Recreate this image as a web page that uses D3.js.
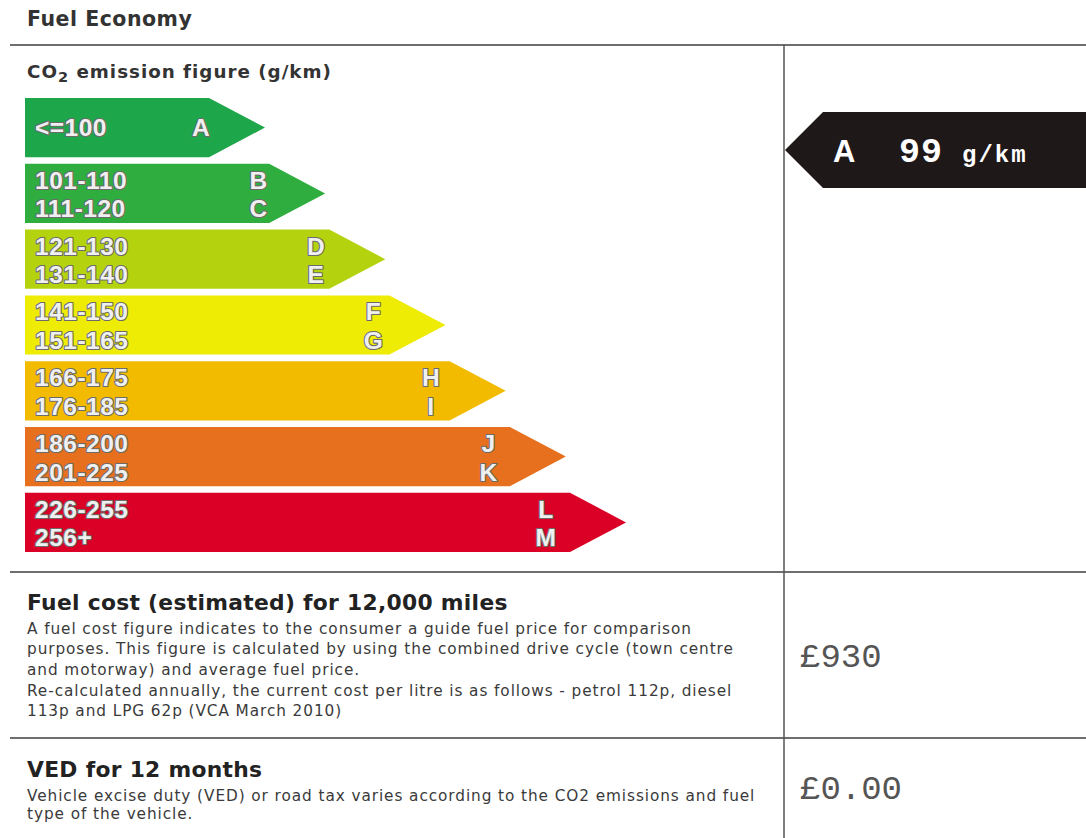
<!DOCTYPE html>
<html>
<head>
<meta charset="utf-8">
<script src="https://cdn.jsdelivr.net/npm/d3@7"></script>
<style>
  html, body { margin: 0; padding: 0; background: #fff; }
  svg { display: block; }
</style>
</head>
<body>
<svg id="chart" width="1086" height="838"></svg>
<script>
// ---- data ----
const bandRanges = [["<=100"], ["101-110", "111-120"], ["121-130", "131-140"], ["141-150", "151-165"],
                    ["166-175", "176-185"], ["186-200", "201-225"], ["226-255", "256+"]];
const bandLetters = [["A"], ["B", "C"], ["D", "E"], ["F", "G"], ["H", "I"], ["J", "K"], ["L", "M"]];
const bandColors = ["#1ea64a", "#2fae3f", "#b4d30e", "#eeeb05", "#f2bb00", "#e6701d", "#db0026"];
const bandRank = [0, 1, 2, 3, 4, 5, 6];

const ratingLetter = "A";
const ratingValue = 99;
const ratingUnit = "g/km";

const title = "Fuel Economy";
const co2Title = "emission figure (g/km)";
const fuelCostTitle = "Fuel cost (estimated) for 12,000 miles";
const fuelCostText = [
  "A fuel cost figure indicates to the consumer a guide fuel price for comparison",
  "purposes. This figure is calculated by using the combined drive cycle (town centre",
  "and motorway) and average fuel price.",
  "Re-calculated annually, the current cost per litre is as follows - petrol 112p, diesel",
  "113p and LPG 62p (VCA March 2010)"
];
const fuelCostValue = 930;
const vedTitle = "VED for 12 months";
const vedText = [
  "Vehicle excise duty (VED) or road tax varies according to the CO2 emissions and fuel",
  "type of the vehicle."
];
const vedValue = 0.00;

// ---- drawing ----
const svg = d3.select("#chart");
svg.append("rect").attr("width", 1086).attr("height", 838).attr("fill", "#fff");

const sans = "'DejaVu Sans', Verdana, sans-serif";
const mono = "'Liberation Mono', 'Courier New', monospace";

// title
svg.append("text").attr("x", 27).attr("y", 26).text(title)
  .attr("font-family", sans).attr("font-weight", "bold").attr("font-size", 20.5)
  .attr("letter-spacing", 0.5).attr("fill", "#333");

// grid lines
const lineColor = "#6e6e6e";
[45, 572, 738].forEach(y => {
  svg.append("line").attr("x1", 10).attr("x2", 1086).attr("y1", y).attr("y2", y)
    .attr("stroke", lineColor).attr("stroke-width", 2);
});
svg.append("line").attr("x1", 784).attr("x2", 784).attr("y1", 45).attr("y2", 838)
  .attr("stroke", "#555").attr("stroke-width", 1.5);

// CO2 title
const co2 = svg.append("text").attr("x", 27).attr("y", 78)
  .attr("font-family", sans).attr("font-weight", "bold").attr("font-size", 18.3)
  .attr("letter-spacing", 1).attr("fill", "#333");
co2.append("tspan").text("CO");
co2.append("tspan").text("2").attr("font-size", 14.5).attr("dy", 4);
co2.append("tspan").text(" " + co2Title).attr("dy", -4);

// scales
const y = d3.scaleBand().domain(bandRank).range([98, 552]).paddingInner(0.1);
const xTip = d3.scaleLinear().domain([0, 6]).range([265, 626]);
const xLetter = d3.scaleLinear().domain([0, 6]).range([201, 546]);
const x0 = 25;
const tipLen = 56;

const bands = svg.append("g").selectAll("g").data(bandRank).join("g");

bands.append("path")
  .attr("fill", (d, i) => bandColors[i])
  .attr("d", d => {
    const t = y(d), h = y.bandwidth(), tip = xTip(d);
    return `M${x0},${t}H${tip - tipLen}L${tip},${t + h / 2}L${tip - tipLen},${t + h}H${x0}Z`;
  });

const labelStyle = sel => sel
  .attr("font-family", "'Liberation Sans', Arial, sans-serif")
  .attr("font-weight", "bold")
  .attr("font-size", 24.5)
  .attr("letter-spacing", 0.5)
  .attr("fill", "#f0f0f0")
  .attr("stroke", "#6b6b6b")
  .attr("stroke-width", 2.2)
  .attr("paint-order", "stroke")
  .attr("stroke-linejoin", "round");

bands.each(function (d, i) {
  const g = d3.select(this);
  const t = y(d), h = y.bandwidth();
  const lines = bandRanges[i];
  const ys = lines.length === 1 ? [t + h / 2] : [t + h * 0.272, t + h * 0.755];
  lines.forEach((s, k) => {
    g.append("text").attr("x", 35).attr("y", ys[k]).attr("dy", "0.36em").text(s).call(labelStyle);
    g.append("text").attr("x", xLetter(d)).attr("y", ys[k]).attr("dy", "0.36em")
      .attr("text-anchor", "middle").text(bandLetters[i][k]).call(labelStyle);
  });
});

// rating indicator
const ind = svg.append("g");
const iy0 = 112, iy1 = 188, ix0 = 785, ixr = 823;
ind.append("path").attr("fill", "#1e1818")
  .attr("d", `M${ix0},${(iy0 + iy1) / 2}L${ixr},${iy0}H1086V${iy1}H${ixr}Z`);
ind.append("text").attr("x", 833).attr("y", 162).text(ratingLetter)
  .attr("font-family", "'Liberation Sans', Arial, sans-serif").attr("font-weight", "bold")
  .attr("font-size", 31).attr("fill", "#fff");
ind.append("text").attr("x", 899).attr("y", 162).text(ratingValue)
  .attr("font-family", mono).attr("font-weight", "bold").attr("font-size", 35)
  .attr("letter-spacing", 1).attr("fill", "#fff");
ind.append("text").attr("x", 962).attr("y", 162).text(ratingUnit)
  .attr("font-family", mono).attr("font-weight", "bold").attr("font-size", 24)
  .attr("letter-spacing", 2).attr("fill", "#fff");

// fuel cost section
svg.append("text").attr("x", 27).attr("y", 610).text(fuelCostTitle)
  .attr("font-family", sans).attr("font-weight", "bold").attr("font-size", 21.8)
  .attr("letter-spacing", 0.3).attr("fill", "#222");
fuelCostText.forEach((s, i) => {
  svg.append("text").attr("x", 27).attr("y", 634 + i * 20.3 + (i >= 3 ? 1 : 0)).text(s)
    .attr("font-family", sans).attr("font-size", 15.3).attr("letter-spacing", 0.92).attr("fill", "#3a3a3a");
});
svg.append("text").attr("x", 800).attr("y", 667).text("£" + fuelCostValue)
  .attr("font-family", mono).attr("font-size", 34).attr("fill", "#555");

// VED section
svg.append("text").attr("x", 27).attr("y", 777).text(vedTitle)
  .attr("font-family", sans).attr("font-weight", "bold").attr("font-size", 21.8)
  .attr("letter-spacing", 0.3).attr("fill", "#222");
vedText.forEach((s, i) => {
  svg.append("text").attr("x", 27).attr("y", 801 + i * 18).text(s)
    .attr("font-family", sans).attr("font-size", 15.3).attr("letter-spacing", 0.92).attr("fill", "#3a3a3a");
});
svg.append("text").attr("x", 800).attr("y", 799).text("£" + vedValue.toFixed(2))
  .attr("font-family", mono).attr("font-size", 34).attr("fill", "#555");
</script>
</body>
</html>
